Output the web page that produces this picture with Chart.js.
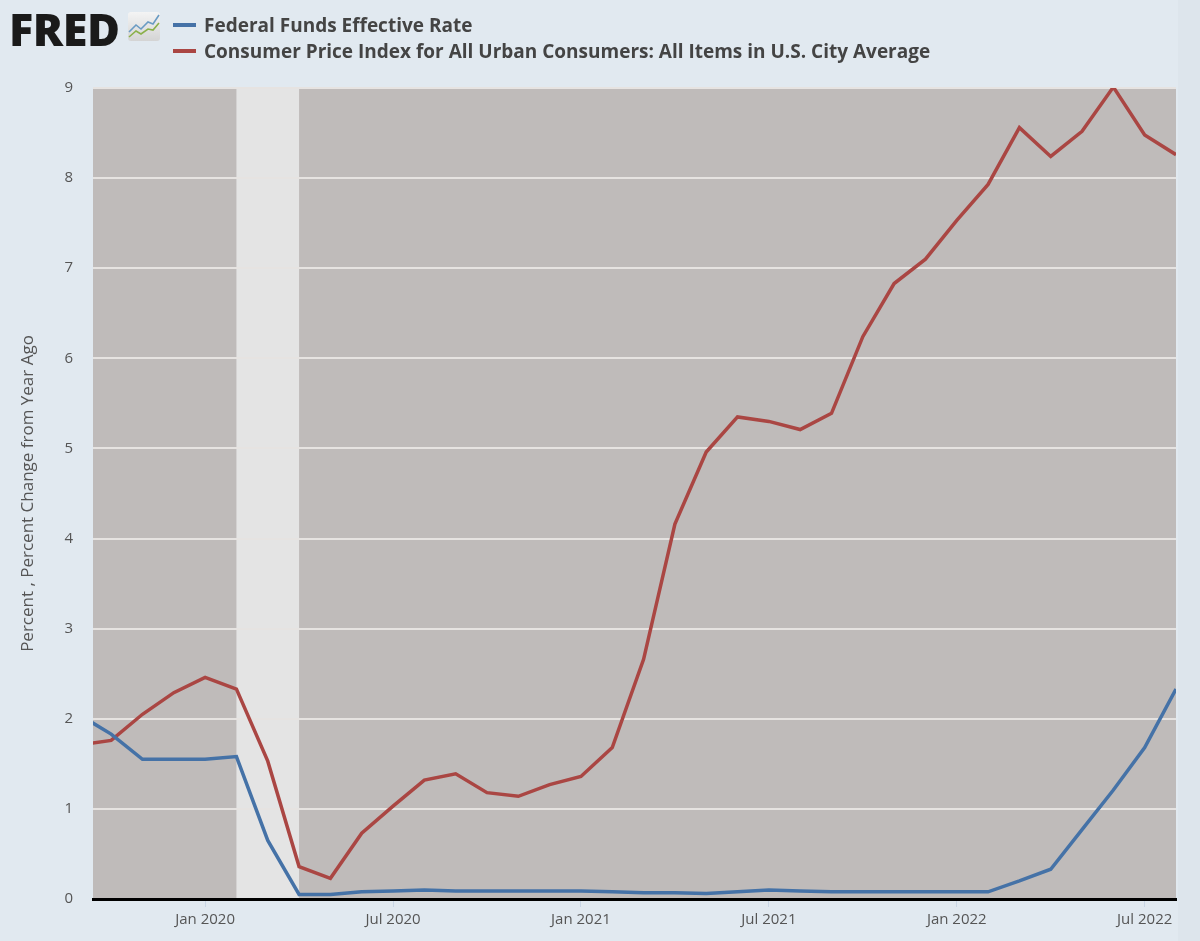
<!DOCTYPE html>
<html>
<head>
<meta charset="utf-8">
<script src="https://cdn.jsdelivr.net/npm/chart.js@4.4.0/dist/chart.umd.min.js"></script>
<style>
  html, body { margin: 0; padding: 0; background: #e1e9f0; }
  #wrap { position: relative; width: 1200px; height: 941px; overflow: hidden; }
  #chart { position: absolute; left: 0; top: 0; }
  #logo { position: absolute; left: 9px; top: -2px; font-family: "Open Sans", "DejaVu Sans", sans-serif;
          font-weight: 800; font-size: 45px; letter-spacing: -0.5px; color: #1a1a1a; }
  #icon { position: absolute; left: 128px; top: 12px; }
  .leg { position: absolute; left: 173px; font-family: "Open Sans", sans-serif; font-weight: bold;
         font-size: 19px; color: #444; white-space: nowrap; }
  .leg span { display: inline-block; width: 23px; height: 4px; margin-right: 8px; vertical-align: middle;
              position: relative; top: -2px; }
  #edge { position: absolute; left: 1178px; top: 0; width: 22px; height: 941px; background: #dde5ec; }
</style>
</head>
<body>
<div id="wrap">
  <canvas id="chart" width="1200" height="941"></canvas>
  <div id="edge"></div>
  <div id="logo">FRED</div>
  <svg id="icon" width="32" height="29" viewBox="0 0 32 29">
    <defs><linearGradient id="g" x1="0" y1="0" x2="0" y2="1"><stop offset="0" stop-color="#f4f4f4"/><stop offset="1" stop-color="#d4d4d4"/></linearGradient></defs>
    <rect x="0" y="0" width="32" height="29" rx="3" fill="url(#g)"/>
    <polyline points="1,20 8,13 13,17 20,10 25,12 31,3" fill="none" stroke="#6a9bc3" stroke-width="1.6"/>
    <polyline points="1,25 8,19 13,22 20,17 25,18 31,11" fill="none" stroke="#8bb04a" stroke-width="1.6"/>
  </svg>
  <div class="leg" style="top:12px"><span style="background:#4572a7"></span>Federal Funds Effective Rate</div>
  <div class="leg" style="top:38px"><span style="background:#aa4643"></span>Consumer Price Index for All Urban Consumers: All Items in U.S. City Average</div>
</div>
<script>
// --- DATA ---
const months = [
  '2019-09', '2019-10', '2019-11', '2019-12',
  '2020-01', '2020-02', '2020-03', '2020-04', '2020-05', '2020-06',
  '2020-07', '2020-08', '2020-09', '2020-10', '2020-11', '2020-12',
  '2021-01', '2021-02', '2021-03', '2021-04', '2021-05', '2021-06',
  '2021-07', '2021-08', '2021-09', '2021-10', '2021-11', '2021-12',
  '2022-01', '2022-02', '2022-03', '2022-04', '2022-05', '2022-06',
  '2022-07', '2022-08'
];

const fedFunds = [
  2.04, 1.83, 1.55, 1.55,
  1.55, 1.58, 0.65, 0.05, 0.05, 0.08,
  0.09, 0.10, 0.09, 0.09, 0.09, 0.09,
  0.09, 0.08, 0.07, 0.07, 0.06, 0.08,
  0.10, 0.09, 0.08, 0.08, 0.08, 0.08,
  0.08, 0.08, 0.20, 0.33, 0.77, 1.21,
  1.68, 2.33
];

const cpi = [
  1.71, 1.76, 2.05, 2.29,
  2.46, 2.33, 1.53, 0.36, 0.23, 0.73,
  1.03, 1.32, 1.39, 1.18, 1.14, 1.27,
  1.36, 1.68, 2.66, 4.16, 4.96, 5.35,
  5.30, 5.21, 5.39, 6.24, 6.83, 7.10,
  7.53, 7.93, 8.56, 8.24, 8.52, 9.01,
  8.48, 8.26
];

const tickMonths = ['2020-01', '2020-07', '2021-01', '2021-07', '2022-01', '2022-07'];
const tickLabels = ['Jan 2020', 'Jul 2020', 'Jan 2021', 'Jul 2021', 'Jan 2022', 'Jul 2022'];
const recession = ['2020-02', '2020-04'];
const yTicks = [0, 1, 2, 3, 4, 5, 6, 7, 8, 9];

// month string -> months since Jan 2020
function mIdx(s) {
  const p = s.split('-');
  return (parseInt(p[0]) - 2020) * 12 + parseInt(p[1]) - 1;
}

const fedPts = months.map((m, i) => ({ x: mIdx(m), y: fedFunds[i] }));
const cpiPts = months.map((m, i) => ({ x: mIdx(m), y: cpi[i] }));

// plot background + recession band
const bgPlugin = {
  id: 'bg',
  beforeDraw(chart) {
    const { ctx, chartArea: a, scales } = chart;
    ctx.save();
    ctx.fillStyle = '#bfbbba';
    ctx.fillRect(a.left, a.top, a.right - a.left, a.bottom - a.top);
    const x0 = scales.x.getPixelForValue(mIdx(recession[0]));
    const x1 = scales.x.getPixelForValue(mIdx(recession[1]));
    ctx.fillStyle = '#e4e4e4';
    ctx.fillRect(x0, a.top, x1 - x0, a.bottom - a.top);
    ctx.restore();
  }
};

const font = { family: '"Open Sans", sans-serif', size: 15 };

new Chart(document.getElementById('chart'), {
  type: 'line',
  data: {
    datasets: [
      { label: 'Federal Funds Effective Rate', data: fedPts, borderColor: '#4572a7',
        borderWidth: 3.5, pointRadius: 0, tension: 0 },
      { label: 'Consumer Price Index for All Urban Consumers: All Items in U.S. City Average',
        data: cpiPts, borderColor: '#aa4643', borderWidth: 3.5, pointRadius: 0, tension: 0 }
    ]
  },
  options: {
    responsive: false,
    animation: false,
    layout: { padding: { top: 88, right: 24, left: 0, bottom: 0 } },
    plugins: { legend: { display: false }, tooltip: { enabled: false } },
    scales: {
      x: {
        type: 'linear',
        min: -3.58,
        max: 31,
        afterBuildTicks: s => { s.ticks = tickMonths.map(m => ({ value: mIdx(m) })); },
        afterFit: s => { s.height = 42; },
        ticks: {
          color: '#555', font: font, padding: 4, maxRotation: 0, autoSkip: false,
          callback: v => { const i = tickMonths.findIndex(m => mIdx(m) === v); return i >= 0 ? tickLabels[i] : ''; }
        },
        grid: { drawOnChartArea: false, drawTicks: true, tickLength: 8, tickColor: '#c9d6e5', tickWidth: 1 },
        border: { display: true, color: '#000', width: 3 }
      },
      y: {
        min: 0,
        max: 9,
        afterBuildTicks: s => { s.ticks = yTicks.map(v => ({ value: v })); },
        afterFit: s => { s.width = 93; },
        ticks: { color: '#555', font: font, padding: 20 },
        grid: { color: '#e6e3e1', lineWidth: 2, drawTicks: false },
        border: { display: false },
        title: { display: true, text: 'Percent , Percent Change from Year Ago', color: '#555',
                 font: { family: '"Open Sans", sans-serif', size: 17 }, padding: { top: 18, bottom: 0 } }
      }
    }
  },
  plugins: [bgPlugin]
});
</script>
</body>
</html>
